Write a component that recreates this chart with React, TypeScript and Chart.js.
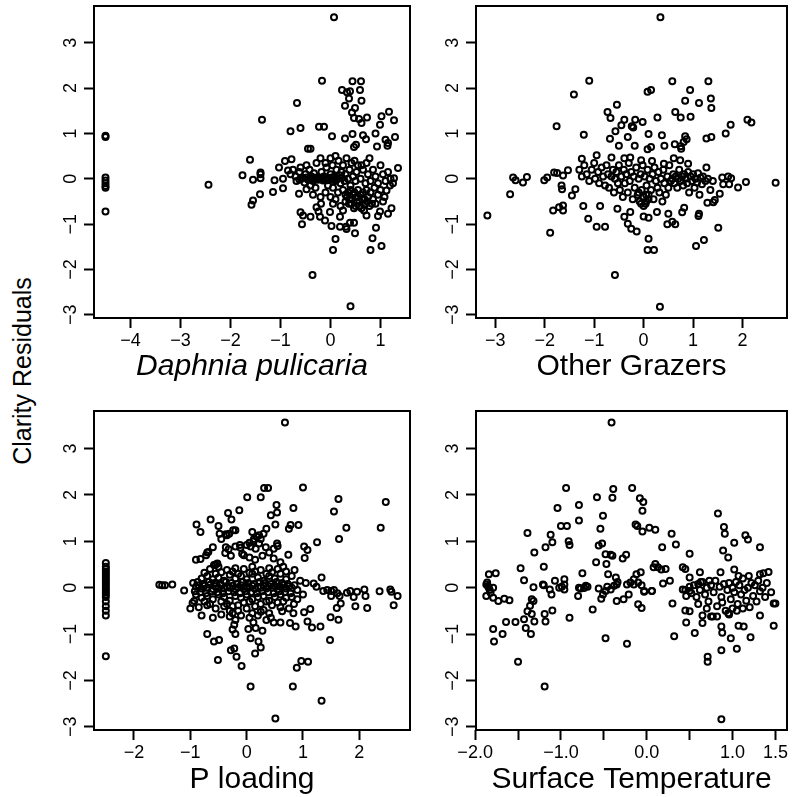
import { useEffect, useRef } from "react";
import { Chart, registerables } from "chart.js";

Chart.register(...registerables);

const yTicks = [-3, -2, -1, 0, 1, 2, 3];
const daphniaTicks = [-4, -3, -2, -1, 0, 1];
const grazerTicks = [-3, -2, -1, 0, 1, 2];
const pLoadTicks = [-2, -1, 0, 1, 2];
const tempTicks = [-2, -1.5, -1, -0.5, 0, 0.5, 1, 1.5];
const tempTickLabels = ["−2.0", "", "−1.0", "", "0.0", "", "1.0", "1.5"];

const yTitle = "Clarity Residuals";

const daphniaPts: [number, number][] = [
  [-4.5, 0.95], [-4.5, 0.92], [-4.5, 0.03], [-4.5, -0.04], [-4.5, -0.1], [-4.5, -0.16], [-4.5, -0.2], [-4.5, -0.72],
  [-2.44, -0.13],
  [-1.76, 0.08], [-1.61, 0.42], [-1.55, -0.02], [-1.4, 0.01], [-1.4, 0.1], [-1.4, 0.14], [-1.37, 1.3], [-1.41, -0.34],
  [-1.55, -0.48], [-1.58, -0.57], [-1.12, -0.03], [-1.15, -0.29], [-0.95, -0.21], [-0.95, 0.0], [-1.03, 0.25],
  [-0.91, 0.39], [-0.78, 0.43], [-0.8, 1.05], [-0.67, 1.67], [-0.6, 1.12], [-0.45, 0.66], [-0.4, 0.66],
  [0.07, 3.56], [-0.17, 2.16], [0.44, 2.15], [0.61, 2.15], [0.23, 1.96], [0.33, 1.91], [0.39, 1.93], [0.59, 1.96],
  [0.37, 1.77], [0.62, 1.72], [0.29, 1.61], [0.49, 1.56], [0.43, 1.46], [0.47, 1.34], [0.57, 1.32], [0.73, 1.35],
  [0.62, 1.23], [1.02, 1.38], [1.17, 1.48], [1.27, 1.29], [0.99, 1.19], [-0.23, 1.15], [-0.13, 1.15], [0.03, 0.94],
  [0.29, 0.89], [0.44, 0.99], [0.65, 0.96], [0.71, 0.87], [0.9, 1.0], [1.1, 0.86], [1.15, 0.79], [1.29, 0.92],
  [1.14, 0.73], [0.93, 0.71], [0.47, 0.7], [0.51, 0.75], [0.62, 0.3], [0.78, 0.45],
  [-0.85, 0.18], [-0.8, 0.1], [-0.75, 0.2], [-0.7, 0.05], [-0.68, -0.05], [-0.62, 0.15], [-0.6, 0.25], [-0.55, 0.02],
  [-0.52, -0.08], [-0.5, 0.1], [-0.48, 0.3], [-0.45, -0.02], [-0.42, 0.2], [-0.4, 0.0], [-0.38, 0.05], [-0.35, -0.05],
  [-0.33, 0.12], [-0.3, 0.0], [-0.28, 0.35], [-0.25, -0.02], [-0.22, 0.02], [-0.2, 0.0], [-0.18, 0.15], [-0.15, -0.04],
  [-0.13, 0.05], [-0.1, 0.0], [-0.08, 0.25], [-0.06, -0.03], [-0.04, 0.02], [-0.02, 0.0], [0.0, 0.1], [0.02, -0.02],
  [0.04, 0.3], [0.06, 0.0], [0.08, 0.05], [0.1, -0.05], [0.12, 0.2], [0.14, 0.0], [0.16, 0.4], [0.18, 0.08],
  [0.2, -0.1], [0.22, 0.15], [0.25, 0.3], [0.28, -0.05], [0.3, 0.1], [0.32, 0.45], [0.35, 0.0], [0.38, 0.2],
  [0.4, -0.15], [0.42, 0.35], [0.45, 0.05], [0.48, 0.4], [0.5, -0.05], [0.52, 0.15], [0.55, 0.3], [0.6, 0.0],
  [0.65, 0.2], [0.7, -0.1], [0.72, 0.35], [0.75, 0.1], [0.8, -0.05], [0.85, 0.2], [0.9, 0.05], [0.95, -0.1],
  [1.0, 0.3], [1.05, 0.1], [1.1, -0.05], [1.15, 0.15], [1.2, 0.0], [1.25, -0.1], [1.27, 0.01], [1.35, 0.24],
  [-0.3, -0.2], [-0.2, 0.45], [-0.1, 0.35], [0.0, 0.45], [0.1, 0.5], [-0.05, -0.15], [0.05, -0.2], [-0.4, -0.15],
  [0.25, -0.25], [0.3, -0.35], [0.35, -0.3], [0.38, -0.45], [0.4, -0.25], [0.42, -0.55], [0.45, -0.35], [0.48, -0.3],
  [0.5, -0.6], [0.52, -0.4], [0.55, -0.25], [0.58, -0.5], [0.6, -0.35], [0.62, -0.65], [0.65, -0.3], [0.68, -0.45],
  [0.7, -0.55], [0.72, -0.25], [0.75, -0.4], [0.78, -0.6], [0.8, -0.3], [0.85, -0.45], [0.88, -0.2], [0.9, -0.55],
  [0.95, -0.35], [1.0, -0.25], [1.05, -0.5], [1.08, -0.4], [1.12, -0.26], [1.19, -0.15], [1.22, -0.65], [1.15, -0.77],
  [0.99, -0.72], [0.95, -0.82], [0.72, -0.81], [0.91, -1.08], [0.84, -1.31], [1.02, -1.48], [0.8, -1.57],
  [0.1, -1.33], [0.05, -1.57], [-0.36, -2.12], [0.4, -2.81], [-0.6, -0.74], [-0.55, -0.81], [-0.57, -1.0],
  [-0.4, -0.84], [-0.28, -0.63], [-0.24, -0.72], [-0.19, -0.55], [-0.21, -0.84], [-0.11, -0.92], [0.02, -1.04],
  [0.19, -1.06], [0.31, -1.06], [0.39, -0.97], [0.47, -0.97], [0.49, -1.2], [0.32, -1.11], [0.19, -0.84],
  [-0.01, -0.73], [-0.35, -0.35], [-0.48, -0.23], [-0.63, -0.33], [0.1, -0.45], [0.2, -0.6], [0.0, -0.4],
  [-0.1, -0.3], [0.15, -0.3], [-0.2, -0.4], [0.05, -0.55], [0.25, -0.7], [0.3, -0.5],
  [-0.58, 0.0], [-0.47, 0.03], [-0.36, 0.01], [-0.27, 0.03], [-0.17, -0.01], [-0.07, 0.02], [0.03, 0.03],
  [0.13, -0.01], [0.23, 0.02], [-0.62, -0.02], [-0.32, -0.02], [0.1, 0.02], [0.33, -0.4], [0.43, -0.45],
  [0.53, -0.5], [0.63, -0.45], [0.73, -0.5], [0.83, -0.55], [0.47, -0.65], [0.57, -0.6], [0.67, -0.7], [0.37, -0.55],
];

const grazerPts: [number, number][] = [
  [-3.16, -0.81], [-2.7, -0.34], [-1.89, -1.19], [-2.64, 0.03], [-2.59, -0.03], [-2.44, -0.08], [-2.36, 0.04],
  [-2.01, -0.03], [-1.95, 0.03], [-1.81, 0.14], [-1.75, 0.13], [-1.63, 0.07], [-1.53, 0.19], [-1.66, -0.15],
  [-1.65, -0.23], [-1.45, -0.37], [-1.38, -0.23], [-1.83, -0.7], [-1.71, -0.63], [-1.63, -0.7], [-1.63, -0.59],
  [-1.76, 1.16], [-1.41, 1.86], [-1.1, 2.16], [-1.21, 0.97], [-1.12, -0.88], [-0.95, -1.06], [-0.78, -1.06],
  [-1.22, -0.6], [-0.88, -0.6], [-0.58, -2.12], [0.33, -2.82], [0.08, -1.57], [0.21, -1.57], [0.1, -1.32],
  [-0.39, -0.84], [-0.32, -0.99], [-0.25, -1.1], [-0.14, -1.16], [-0.53, -0.66], [-0.27, -0.73], [0.0, -0.83],
  [0.1, -0.86], [0.27, -0.73], [0.48, -1.0], [0.58, -0.95], [0.64, -1.0], [0.5, -0.77], [0.78, -0.74], [0.82, -0.64],
  [1.06, -1.48], [1.22, -1.35], [1.51, -1.08], [1.11, -0.82], [1.12, -0.77], [1.29, -0.53], [1.41, -0.52],
  [1.44, -0.47], [1.54, -0.33], [1.91, -0.19], [2.07, -0.07], [2.67, -0.09], [1.59, 0.03], [1.71, 0.05],
  [1.77, 0.01], [1.61, -0.12], [1.73, -0.12],
  [-0.54, 1.63], [-0.73, 1.47], [-0.67, 1.34], [-0.57, 1.05], [-0.68, 0.88], [-0.39, 1.3], [-0.45, 1.18],
  [-0.24, 1.16], [-0.21, 1.13], [-0.17, 1.3], [-0.02, 1.25], [-0.32, 0.92], [-0.5, 0.73], [-0.18, 0.73],
  [0.28, 1.35], [0.1, 0.99], [0.37, 0.96], [0.08, 0.65], [0.15, 0.7], [0.08, 1.92], [0.15, 1.96], [0.58, 2.15],
  [0.94, 1.96], [0.84, 1.72], [1.12, 1.67], [0.64, 1.47], [0.75, 1.35], [0.95, 1.37], [1.36, 1.77], [1.37, 1.56],
  [1.31, 2.15], [0.42, 0.73], [0.63, 0.76], [0.84, 0.94], [0.87, 0.87], [0.81, 0.81], [0.75, 0.72], [0.76, 0.66],
  [1.27, 0.89], [1.37, 0.92], [1.66, 1.0], [1.76, 1.19], [2.1, 1.3], [2.18, 1.24], [0.34, 3.56],
  [-1.25, 0.44], [-0.95, 0.52], [-0.65, 0.47], [-0.39, 0.45], [-0.27, 0.47], [-0.05, 0.41], [0.17, 0.39],
  [0.41, 0.33], [0.61, 0.45], [0.74, 0.41], [0.9, 0.33], [1.27, 0.25],
  [-1.3, 0.2], [-1.25, 0.05], [-1.2, 0.3], [-1.15, 0.1], [-1.1, -0.05], [-1.05, 0.2], [-1.0, 0.35], [-0.98, 0.0],
  [-0.92, 0.15], [-0.9, -0.1], [-0.85, 0.25], [-0.82, 0.05], [-0.78, -0.15], [-0.75, 0.3], [-0.72, 0.1],
  [-0.7, -0.2], [-0.65, 0.05], [-0.62, 0.2], [-0.6, -0.3], [-0.58, 0.0], [-0.55, 0.15], [-0.52, -0.1], [-0.5, 0.3],
  [-0.48, -0.25], [-0.45, 0.05], [-0.42, -0.4], [-0.4, 0.2], [-0.38, -0.1], [-0.35, 0.1], [-0.32, -0.3],
  [-0.3, 0.35], [-0.28, -0.05], [-0.25, 0.15], [-0.22, -0.45], [-0.2, 0.05], [-0.18, -0.2], [-0.15, 0.25],
  [-0.12, -0.35], [-0.1, 0.0], [-0.08, -0.5], [-0.06, 0.1], [-0.04, -0.25], [-0.02, 0.3], [0.0, -0.4], [0.02, 0.05],
  [0.04, -0.55], [0.06, -0.15], [0.08, 0.2], [0.1, -0.35], [0.12, 0.0], [0.15, -0.25], [0.18, 0.1], [0.2, -0.45],
  [0.22, 0.25], [0.25, -0.05], [0.28, -0.2], [0.3, 0.15], [0.32, -0.3], [0.35, 0.0], [0.38, -0.5], [0.4, 0.2],
  [0.42, -0.1], [0.45, -0.35], [0.48, 0.05], [0.5, -0.2], [0.52, 0.3], [0.55, -0.05], [0.58, 0.0], [0.6, 0.1],
  [0.62, -0.1], [0.65, 0.05], [0.68, -0.2], [0.7, 0.0], [0.72, 0.2], [0.75, -0.05], [0.78, 0.05], [0.8, -0.15],
  [0.82, 0.1], [0.85, 0.0], [0.88, -0.1], [0.9, 0.15], [0.92, -0.3], [0.95, 0.05], [0.98, -0.05], [1.0, 0.1],
  [1.03, -0.2], [1.05, 0.0], [1.08, -0.08], [1.1, 0.12], [1.13, -0.35], [1.15, 0.02], [1.18, -0.12], [1.2, 0.05],
  [1.25, -0.05], [1.3, 0.0], [1.35, -0.25], [1.4, -0.05], [-0.05, -0.55], [0.0, -0.6], [0.05, -0.5], [0.1, -0.45],
  [-0.1, -0.3], [0.05, -0.35],
];

const pLoadPts: [number, number][] = [
  [-2.5, 0.53], [-2.5, 0.45], [-2.5, 0.4], [-2.5, 0.35], [-2.5, 0.3], [-2.5, 0.25], [-2.5, 0.2], [-2.5, 0.15],
  [-2.5, 0.1], [-2.5, 0.05], [-2.5, 0.0], [-2.5, -0.05], [-2.5, -0.1], [-2.5, -0.15], [-2.5, -0.2], [-2.5, -0.3],
  [-2.5, -0.4], [-2.5, -0.5], [-2.5, -0.6], [-2.5, -1.48],
  [-1.55, 0.06], [-1.5, 0.05], [-1.45, 0.05], [-1.32, 0.07], [-1.11, -0.06], [-1.0, -0.45], [-0.93, -0.29],
  [-0.96, -0.33], [-0.7, -1.0], [-0.51, -1.56], [-0.58, -1.16], [-0.49, -1.13], [-0.28, -1.35], [-0.22, -1.31],
  [-0.18, -1.49], [-0.09, -1.69], [0.07, -2.13], [0.51, -2.82], [0.82, -2.13], [1.33, -2.44], [0.89, -1.73],
  [0.97, -1.58], [1.09, -1.6], [1.48, -1.13], [0.15, -1.42], [0.21, -1.16], [0.25, -1.29], [0.07, -1.09],
  [0.03, -0.89], [0.16, -0.87], [0.28, -0.93],
  [0.31, 2.15], [0.38, 2.15], [1.0, 2.16], [0.01, 1.95], [0.25, 1.95], [1.63, 1.91], [2.47, 1.85], [0.53, 1.78],
  [0.43, 1.56], [0.54, 1.62], [0.83, 1.72], [1.55, 1.64], [-0.13, 1.67], [-0.33, 1.61], [-0.27, 1.47],
  [-0.64, 1.47], [-0.89, 1.36], [-0.82, 1.2], [-0.5, 1.33], [0.78, 1.35], [0.92, 1.35], [0.75, 1.27],
  [1.64, 1.05], [1.77, 1.29], [2.38, 1.29], [1.25, 0.98], [0.54, 0.95], [1.02, 0.89], [1.08, 0.81], [1.03, 0.64],
  [0.74, 0.71], [0.48, 0.63], [0.68, 3.56],
  [-0.48, 1.16], [-0.37, 1.15], [-0.31, 1.16], [-0.24, 1.24], [-0.2, 1.24], [0.51, 1.36], [0.35, 1.27],
  [0.3, 1.16], [0.22, 1.13], [0.13, 1.05], [0.05, 0.97], [0.0, 0.92], [-0.11, 0.86], [-0.9, 0.6], [-0.82, 0.62],
  [-0.7, 0.76], [-0.58, 0.49], [-0.37, 0.87], [-0.28, 0.69], [-0.2, 0.89], [-0.08, 0.73], [0.07, 0.89],
  [0.16, 0.84], [0.22, 0.95], [0.25, 1.05], [0.34, 0.87], [0.4, 0.76], [0.48, 0.84], [0.28, 0.69],
  [1.19, 0.09], [1.24, 0.02], [1.33, 0.22], [1.36, -0.07], [1.43, -0.05], [1.5, -0.07], [1.55, -0.05],
  [1.61, -0.12], [1.65, -0.18], [1.67, -0.34], [1.5, -0.18], [1.6, -0.44], [1.78, -0.11], [1.84, -0.07],
  [1.9, -0.2], [1.93, -0.4], [1.96, -0.09], [2.09, -0.04], [2.11, -0.18], [2.14, -0.44], [2.36, -0.08],
  [2.55, -0.04], [2.57, -0.09], [2.68, -0.18], [2.61, -0.38], [1.63, -0.69], [1.49, -0.64], [1.31, -0.84],
  [1.16, -0.86], [1.08, -0.73], [1.02, -0.53], [1.13, -0.46], [0.84, -0.35], [0.83, -0.55], [0.87, -0.84],
  [0.77, -0.76], [0.6, -0.75], [0.48, -0.75], [0.43, -0.65], [0.63, -0.51],
  [-0.9, 0.02], [-0.85, 0.05], [-0.8, -0.02], [-0.75, 0.04], [-0.7, 0.0], [-0.65, 0.06], [-0.6, -0.03],
  [-0.55, 0.03], [-0.5, 0.0], [-0.45, 0.05], [-0.4, -0.02], [-0.35, 0.02], [-0.3, 0.0], [-0.25, 0.04],
  [-0.2, -0.03], [-0.15, 0.01], [-0.1, 0.05], [-0.05, -0.02], [0.0, 0.02], [0.05, 0.0], [0.1, 0.04], [0.15, -0.03],
  [0.2, 0.02], [0.25, 0.0], [0.3, 0.05], [0.35, -0.02], [0.4, 0.03], [0.45, 0.0], [0.5, 0.04], [0.55, -0.04],
  [0.6, 0.02], [0.65, 0.06], [0.7, -0.02], [0.75, 0.03], [0.8, 0.0], [0.85, 0.05], [0.9, -0.05],
  [-0.8, 0.2], [-0.7, 0.25], [-0.6, 0.18], [-0.5, 0.22], [-0.4, 0.15], [-0.3, 0.28], [-0.2, 0.2], [-0.1, 0.25],
  [0.0, 0.18], [0.1, 0.3], [0.2, 0.22], [0.3, 0.15], [0.4, 0.25], [0.5, 0.2], [0.6, 0.3], [0.7, 0.18], [0.8, 0.25],
  [0.95, 0.15], [1.05, 0.1],
  [-0.65, 0.4], [-0.5, 0.45], [-0.35, 0.38], [-0.2, 0.42], [-0.05, 0.4], [0.1, 0.45], [0.25, 0.38], [0.4, 0.42],
  [0.55, 0.4], [0.7, 0.35], [0.85, 0.38],
  [-0.9, -0.15], [-0.8, -0.22], [-0.7, -0.18], [-0.6, -0.25], [-0.5, -0.15], [-0.4, -0.2], [-0.3, -0.28],
  [-0.2, -0.18], [-0.1, -0.22], [0.0, -0.15], [0.1, -0.25], [0.2, -0.2], [0.3, -0.18], [0.4, -0.28], [0.5, -0.2],
  [0.6, -0.15], [0.7, -0.22], [0.8, -0.2], [0.9, -0.25], [1.0, -0.15],
  [-0.85, -0.42], [-0.7, -0.38], [-0.55, -0.45], [-0.4, -0.4], [-0.3, -0.5], [-0.15, -0.38], [0.0, -0.45],
  [0.15, -0.4], [0.3, -0.48], [0.45, -0.38], [0.6, -0.42], [0.75, -0.45],
  [-0.8, -0.6], [-0.6, -0.65], [-0.45, -0.58], [-0.3, -0.62], [-0.2, -0.7], [-0.1, -0.6], [0.05, -0.65],
  [0.2, -0.6], [0.35, -0.7],
  [-0.72, 0.7], [-0.68, 0.77], [-0.55, 0.5], [-0.52, 0.52], [-0.38, 0.75], [-0.32, 0.83], [-0.12, 0.92],
  [0.12, 1.0], [0.18, 1.1], [0.55, 0.9], [-0.6, 0.87], [-0.45, 1.05], [-0.35, 1.13], [0.1, 1.2], [0.15, 0.6],
  [0.05, 0.65], [-0.05, 0.7], [0.6, 0.55], [0.65, 0.45],
  [-0.95, 0.1], [-0.87, 0.12], [-0.77, 0.08], [-0.67, 0.12], [-0.57, 0.1], [-0.47, 0.08], [-0.37, 0.12],
  [-0.27, 0.1], [-0.17, 0.08], [-0.07, 0.12], [0.03, 0.1], [0.13, 0.08], [0.23, 0.12], [0.33, 0.1], [0.43, 0.08],
  [0.53, 0.12], [0.63, 0.1], [0.73, 0.08],
  [-0.92, -0.08], [-0.82, -0.1], [-0.72, -0.12], [-0.62, -0.08], [-0.52, -0.1], [-0.42, -0.12], [-0.32, -0.08],
  [-0.22, -0.1], [-0.12, -0.12], [-0.02, -0.08], [0.08, -0.1], [0.18, -0.12], [0.28, -0.08], [0.38, -0.1],
  [0.48, -0.12], [0.58, -0.08], [0.68, -0.1], [0.78, -0.12],
  [-0.75, 0.32], [-0.55, 0.3], [-0.45, 0.33], [-0.25, 0.35], [-0.15, 0.3], [0.05, 0.32], [0.15, 0.35],
  [0.35, 0.3], [0.45, 0.33],
  [-0.75, -0.3], [-0.65, -0.35], [-0.45, -0.3], [-0.35, -0.35], [-0.25, -0.4], [-0.05, -0.32], [0.05, -0.3],
  [0.25, -0.35], [0.35, -0.3], [0.55, -0.32], [0.65, -0.3],
  [-0.25, -0.55], [-0.22, -0.8], [-0.25, -0.9], [-0.2, -1.0], [-0.15, -0.5], [0.1, -0.55], [0.12, -0.75],
  [0.25, -0.52], [0.4, -0.55],
];

const tempPts: [number, number][] = [
  [-0.41, 3.56], [-0.94, 2.15], [-0.39, 2.13], [-0.4, 1.94], [-0.17, 2.15], [-0.58, 1.95], [-0.08, 1.93],
  [-0.04, 1.85], [-0.05, 1.66], [-1.04, 1.72], [-0.79, 1.78], [-0.79, 1.45], [-1.0, 1.33], [-0.93, 1.33],
  [-0.51, 1.55], [-0.54, 1.27], [-1.39, 1.18], [-1.12, 1.14], [-1.1, 0.98], [-1.18, 0.87], [-0.91, 1.0],
  [-0.9, 0.92], [-0.13, 1.36], [-0.11, 1.33], [-0.05, 1.21], [0.03, 1.29], [0.1, 1.25], [-0.56, 0.91],
  [-0.52, 0.95], [-0.48, 0.72], [-0.42, 0.71], [-0.4, 0.69], [-0.28, 0.63], [-0.24, 0.71], [-1.31, 0.76],
  [-1.2, 0.45], [-1.47, 0.42], [-1.43, 0.16], [-1.32, 0.01], [0.18, 0.87], [0.29, 1.16], [0.34, 0.93],
  [0.5, 0.73], [0.83, 1.6], [0.9, 1.31], [0.91, 1.16], [0.89, 0.8], [0.95, 0.65], [1.02, 0.97], [1.15, 1.13],
  [1.18, 1.04], [1.32, 0.87], [0.1, 0.51], [0.08, 0.44], [0.13, 0.44], [0.17, 0.39], [0.22, 0.4], [0.42, 0.44],
  [0.45, 0.4], [0.5, 0.22], [0.62, 0.33], [0.73, 0.15], [0.63, 0.12], [0.86, 0.33], [1.02, 0.39], [1.07, 0.25],
  [1.19, 0.25], [1.32, 0.29], [1.36, 0.31], [1.42, 0.34], [-1.86, 0.11], [-1.84, 0.29], [-1.76, 0.31],
  [-1.21, 0.07], [-1.07, 0.15], [-0.96, 0.18], [-0.96, 0.07], [-0.75, 0.31], [-0.79, 0.0], [-0.71, 0.04],
  [-0.59, 0.55], [-0.47, 0.51], [-0.45, 0.29], [-0.36, 0.22], [-0.34, 0.12], [-0.23, 0.07], [-0.15, 0.18],
  [-0.12, 0.29], [-0.07, 0.33], [-0.03, -0.07], [0.06, -0.07],
  [-1.87, 0.07], [-1.84, 0.0], [-1.79, 0.0], [-1.87, -0.18], [-1.82, -0.11], [-1.85, 0.03], [-1.83, -0.05],
  [-1.79, -0.22], [-1.73, -0.29], [-1.66, -0.24], [-1.6, -0.27], [-1.79, -0.89], [-1.78, -1.16], [-1.68, -1.0],
  [-1.64, -0.74], [-1.53, -0.74], [-1.43, -0.68], [-1.41, -0.87], [-1.35, -1.0], [-1.5, -1.6], [-1.19, -2.13],
  [-1.39, -0.51], [-1.36, -0.39], [-1.34, -0.57], [-1.31, -0.73], [-1.32, -0.29], [-1.34, -0.25], [-1.19, -0.57],
  [-1.18, -0.73], [-1.1, -0.49], [-1.2, 0.05], [-1.13, -0.04], [-1.11, -0.15], [-1.02, 0.0], [-0.99, 0.02],
  [-0.96, -0.04], [-0.9, -0.65], [-0.8, -0.18], [-0.77, -0.02], [-0.73, -0.01], [-0.69, 0.02], [-0.63, -0.47],
  [-0.56, -0.02], [-0.53, -0.24], [-0.51, -0.15], [-0.48, -0.07], [-0.46, 0.02], [-0.42, -0.04], [-0.38, 0.04],
  [-0.35, 0.07], [-0.48, -1.09], [-0.35, -0.29], [-0.27, -0.25], [-0.21, -0.15], [-0.23, -1.21], [-0.19, 0.11],
  [-0.15, 0.07], [-0.1, 0.11], [-0.06, 0.05], [-0.03, -0.09], [0.06, -0.07], [-0.1, -0.36], [-0.06, -0.44],
  [0.19, 0.09], [0.27, 0.15], [0.3, -0.34], [0.32, -1.05], [0.42, -0.04], [0.46, -0.18], [0.5, -0.07],
  [0.71, -1.49], [0.71, -1.6], [0.87, -1.35], [0.87, -2.84], [1.05, -1.32], [0.98, -1.09], [0.88, -0.97],
  [0.87, -0.84], [1.21, -1.07], [1.48, -0.34], [1.5, -0.34], [1.48, -0.82], [1.32, -0.6], [1.07, -0.82],
  [1.13, -0.84], [0.46, -0.75], [0.56, -0.98], [0.65, -0.76], [0.45, -0.49], [0.5, -0.51], [0.77, -0.62],
  [0.82, -0.62], [0.96, -0.58],
  [0.45, -0.05], [0.5, 0.02], [0.52, -0.12], [0.55, 0.05], [0.58, -0.2], [0.6, 0.08], [0.62, -0.05], [0.65, 0.12],
  [0.68, -0.15], [0.7, 0.0], [0.72, -0.3], [0.75, 0.05], [0.78, -0.1], [0.8, 0.15], [0.82, -0.4], [0.85, 0.02],
  [0.87, -0.2], [0.9, 0.08], [0.92, -0.5], [0.94, -0.05], [0.96, 0.1], [0.98, -0.25], [1.0, 0.0], [1.02, -0.1],
  [1.04, 0.12], [1.06, -0.35], [1.08, 0.05], [1.1, -0.15], [1.12, 0.2], [1.14, -0.05], [1.16, -0.28], [1.18, 0.0],
  [1.2, -0.42], [1.22, 0.1], [1.24, -0.18], [1.26, 0.05], [1.28, -0.3], [1.3, 0.15], [1.32, -0.08], [1.35, 0.0],
  [1.38, -0.2], [1.4, 0.1], [1.45, -0.1], [0.95, -0.55], [1.0, -0.45], [1.05, -0.5], [0.88, -0.32], [1.12, -0.45],
  [0.7, -0.45], [0.6, -0.35], [0.65, -0.6], [0.75, -0.62],
];

const FONT = "'Liberation Sans', Arial, Helvetica, sans-serif";
const fmt = (v: number) => (v < 0 ? "\u2212" + Math.abs(v) : String(v));

const boxPlugin = {
  id: "rbox",
  afterDraw(chart: any) {
    const { ctx, chartArea: a } = chart;
    ctx.save();
    ctx.strokeStyle = "#000";
    ctx.lineWidth = 2;
    ctx.strokeRect(a.left, a.top, a.right - a.left, a.bottom - a.top);
    ctx.restore();
  },
};

type PanelProps = {
  pts: [number, number][];
  xTicks: number[];
  xLabel: (v: number, i: number) => string;
  xMin: number;
  xMax: number;
  yMin: number;
  yMax: number;
  title: string;
  italic?: boolean;
  left: number;
  top: number;
  width: number;
  height: number;
  padTop: number;
  padRight: number;
  yWidth: number;
  xHeight: number;
  titlePad: number;
};

function Panel(p: PanelProps) {
  const ref = useRef<HTMLCanvasElement>(null);
  useEffect(() => {
    const chart = new Chart(ref.current!, {
      type: "scatter",
      data: {
        datasets: [
          {
            data: p.pts.map(([x, y]) => ({ x, y })),
            pointStyle: "circle",
            pointRadius: 3,
            pointBorderWidth: 2,
            pointBackgroundColor: "rgba(0,0,0,0)",
            pointBorderColor: "#000",
          },
        ],
      },
      options: {
        animation: false,
        responsive: false,
        devicePixelRatio: 1,
        layout: { padding: { top: p.padTop, right: p.padRight, left: 0, bottom: 0 } },
        plugins: { legend: { display: false }, tooltip: { enabled: false } },
        scales: {
          x: {
            type: "linear",
            min: p.xMin,
            max: p.xMax,
            afterBuildTicks: (axis: any) => {
              axis.ticks = p.xTicks.map((v) => ({ value: v }));
            },
            afterFit: (axis: any) => {
              axis.height = p.xHeight;
              axis.paddingLeft = 0;
              axis.paddingRight = 0;
              axis.paddingTop = 0;
              axis.paddingBottom = 0;
            },
            border: { display: false },
            grid: {
              drawOnChartArea: false,
              drawTicks: true,
              tickLength: 10,
              tickWidth: 2,
              tickColor: "#000",
            },
            ticks: {
              autoSkip: false,
              maxRotation: 0,
              minRotation: 0,
              padding: 2,
              color: "#000",
              font: { family: FONT, size: 18 },
              callback: (v: any, i: number) => p.xLabel(Number(v), i),
            },
            title: {
              display: true,
              text: p.title,
              color: "#000",
              padding: { top: 0, bottom: p.titlePad },
              font: { family: FONT, size: 30, style: p.italic ? "italic" : "normal", lineHeight: 1 },
            },
          },
          y: {
            type: "linear",
            min: p.yMin,
            max: p.yMax,
            afterBuildTicks: (axis: any) => {
              axis.ticks = yTicks.map((v) => ({ value: v }));
            },
            afterFit: (axis: any) => {
              axis.width = p.yWidth;
              axis.paddingTop = 0;
              axis.paddingBottom = 0;
              axis.paddingLeft = 0;
              axis.paddingRight = 0;
            },
            border: { display: false },
            grid: {
              drawOnChartArea: false,
              drawTicks: true,
              tickLength: 10,
              tickWidth: 2,
              tickColor: "#000",
            },
            ticks: {
              autoSkip: false,
              minRotation: 90,
              maxRotation: 90,
              crossAlign: "center",
              padding: 3,
              color: "#000",
              font: { family: FONT, size: 18 },
              callback: (v: any) => fmt(Number(v)),
            },
          },
        },
      },
      plugins: [boxPlugin],
    } as any);
    return () => chart.destroy();
  }, []);
  return (
    <canvas
      ref={ref}
      width={p.width}
      height={p.height}
      style={{ position: "absolute", left: p.left, top: p.top, width: p.width, height: p.height }}
    />
  );
}

export default function App() {
  const yMin = -3.07;
  const yMax = 3.81;
  return (
    <div style={{ position: "absolute", left: 0, top: 0, width: 793, height: 797, background: "#fff", overflow: "hidden" }}>
      <Panel
        pts={daphniaPts} xTicks={daphniaTicks} xLabel={(v) => fmt(v)} xMin={-4.73} xMax={1.59} yMin={yMin} yMax={yMax}
        title="Daphnia pulicaria" italic left={40} top={0} width={380} height={395} padTop={1} padRight={10}
        yWidth={54} xHeight={77} titlePad={13}
      />
      <Panel
        pts={grazerPts} xTicks={grazerTicks} xLabel={(v) => fmt(v)} xMin={-3.39} xMax={2.9} yMin={yMin} yMax={yMax}
        title="Other Grazers" left={420} top={0} width={373} height={395} padTop={1} padRight={1}
        yWidth={56} xHeight={77} titlePad={13}
      />
      <Panel
        pts={pLoadPts} xTicks={pLoadTicks} xLabel={(v) => fmt(v)} xMin={-2.71} xMax={2.9} yMin={yMin} yMax={yMax}
        title="P loading" left={40} top={400} width={380} height={397} padTop={11} padRight={10}
        yWidth={54} xHeight={67} titlePad={2}
      />
      <Panel
        pts={tempPts} xTicks={tempTicks} xLabel={(_v, i) => tempTickLabels[i]} xMin={-1.99} xMax={1.635} yMin={yMin} yMax={yMax}
        title="Surface Temperature" left={420} top={400} width={373} height={397} padTop={11} padRight={1}
        yWidth={56} xHeight={67} titlePad={2}
      />
      <div
        style={{
          position: "absolute",
          left: 22,
          top: 371,
          transform: "translate(-50%, -50%) rotate(-90deg)",
          whiteSpace: "nowrap",
          fontFamily: FONT,
          fontSize: 25,
          lineHeight: 1,
          color: "#000",
        }}
      >
        {yTitle}
      </div>
    </div>
  );
}
